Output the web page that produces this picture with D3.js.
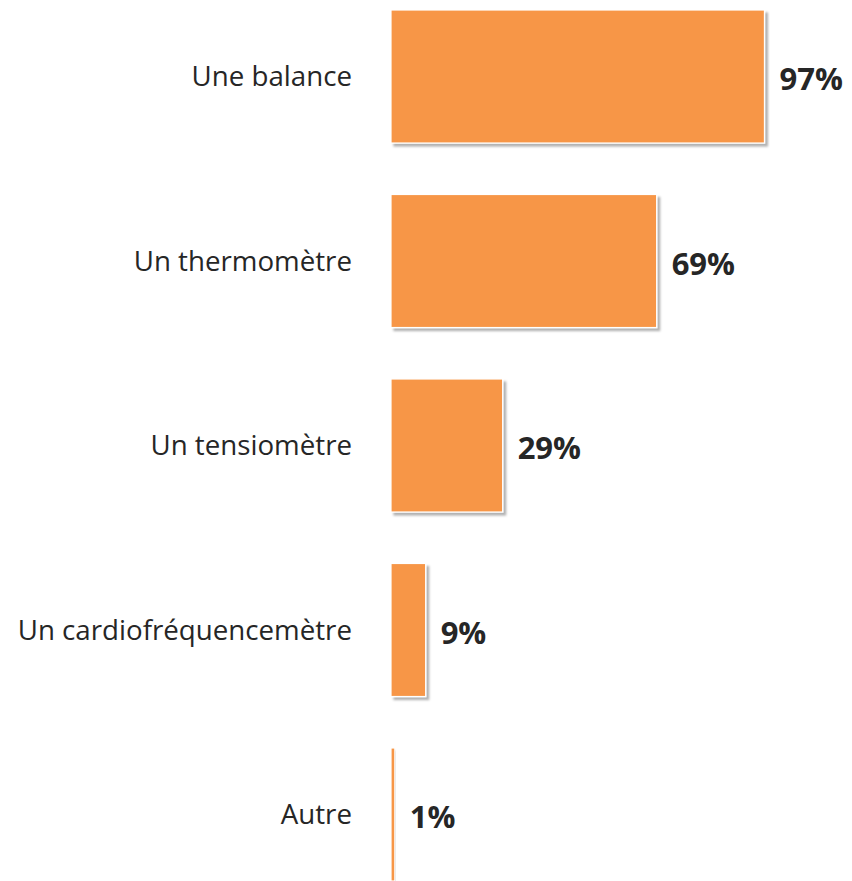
<!DOCTYPE html>
<html><head><meta charset="utf-8">
<script src="https://cdn.jsdelivr.net/npm/d3@7"></script>
<style>html,body{margin:0;padding:0;background:#fff;}svg{display:block;}</style>
</head><body>
<script>
const categories = ["Une balance","Un thermomètre","Un tensiomètre","Un cardiofréquencemètre","Autre"];
const values = [97,69,29,9,1];
const valueLabels = ["97%","69%","29%","9%","1%"];

const W = 852, H = 881;
const svg = d3.select("body").append("svg").attr("width", W).attr("height", H);
const defs = svg.append("defs");
const f = defs.append("filter").attr("id","sh").attr("x","-10%").attr("y","-10%").attr("width","130%").attr("height","130%");
f.append("feDropShadow").attr("dx",3).attr("dy",3).attr("stdDeviation",1.2).attr("flood-color","#000").attr("flood-opacity",0.3);

const x = d3.scaleLinear().domain([0,100]).range([391, 391+385]);
const y = d3.scaleBand().domain(categories).range([10, 881]).paddingInner(0.279).paddingOuter(0);

const g = svg.append("g");
g.selectAll("rect").data(categories).join("rect")
  .attr("x", x(0))
  .attr("y", d => y(d))
  .attr("width", (d,i) => x(values[i]) - x(0))
  .attr("height", y.bandwidth())
  .attr("fill", "#F79646")
  .attr("stroke", "#fff").attr("stroke-width", 1.2)
  .attr("filter", "url(#sh)");

g.selectAll("text.cat").data(categories).join("text")
  .attr("class","cat")
  .attr("x", 352)
  .attr("y", d => y(d) + y.bandwidth()/2)
  .attr("dy", "0.35em")
  .attr("text-anchor","end")
  .attr("font-family","'Open Sans', sans-serif")
  .attr("font-size", 27.7)
  .attr("fill","#262626")
  .text(d => d);

g.selectAll("text.val").data(categories).join("text")
  .attr("class","val")
  .attr("x", (d,i) => x(values[i]) + 15)
  .attr("y", d => y(d) + y.bandwidth()/2 + 3)
  .attr("dy", "0.35em")
  .attr("font-family","'Open Sans', sans-serif")
  .attr("font-weight","bold")
  .attr("font-size", 31)
  .attr("fill","#262626")
  .text((d,i) => valueLabels[i]);
</script>
</body></html>
